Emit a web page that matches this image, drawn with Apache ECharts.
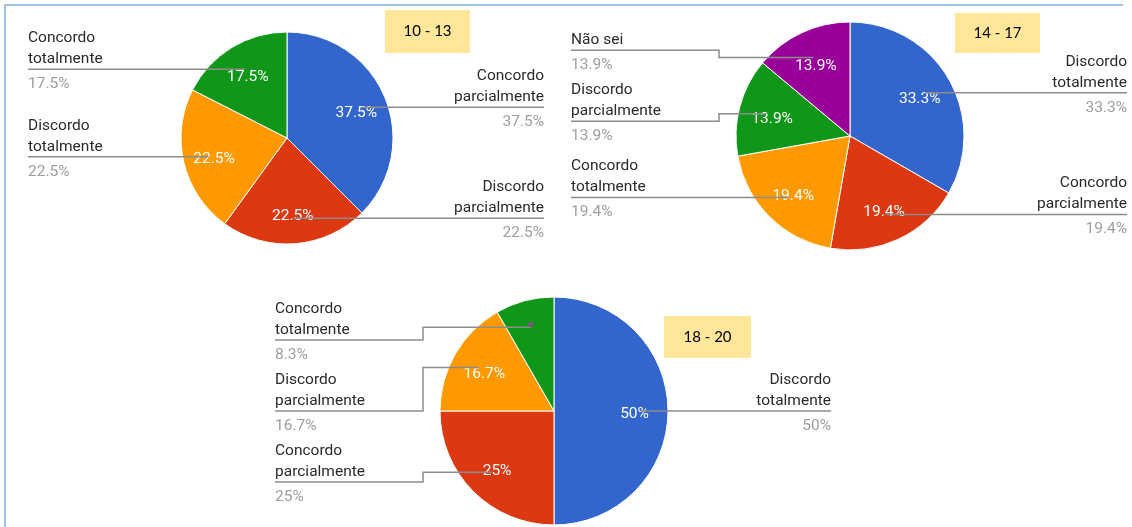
<!DOCTYPE html>
<html><head><meta charset="utf-8">
<script src="https://cdn.jsdelivr.net/npm/echarts@6/dist/echarts.min.js"></script>
<style>html,body{margin:0;padding:0;background:#fff}#c{width:1132px;height:527px}</style>
</head><body><div id="c"></div>
<script>
// ---- data ----
const names1 = ['Concordo parcialmente', 'Discordo parcialmente', 'Discordo totalmente', 'Concordo totalmente'];
const values1 = [37.5, 22.5, 22.5, 17.5];
const colors1 = ['#3366cc', '#dc3912', '#ff9900', '#109618'];

const names2 = ['Discordo totalmente', 'Concordo parcialmente', 'Concordo totalmente', 'Discordo parcialmente', 'Não sei'];
const values2 = [33.3, 19.4, 19.4, 13.9, 13.9];
const colors2 = ['#3366cc', '#dc3912', '#ff9900', '#109618', '#990099'];

const names3 = ['Discordo totalmente', 'Concordo parcialmente', 'Discordo parcialmente', 'Concordo totalmente'];
const values3 = [50, 25, 16.7, 8.3];
const colors3 = ['#3366cc', '#dc3912', '#ff9900', '#109618'];

const groupLabels = ['10 - 13', '14 - 17', '18 - 20'];

// ---- layout ----
const FONT = 'Roboto';
const layouts = [
  {left: 28, right: 544, labelTop: 0, labelBottom: 527, cx: 287, cy: 138, r: 106},
  {left: 571, right: 1127, labelTop: 0, labelBottom: 527, cx: 850, cy: 136, r: 114},
  {left: 275, right: 831, labelTop: 295.5, labelBottom: 527, cx: 554, cy: 411, r: 114}
];
const boxes = [
  {x: 385, y: 10, w: 85, h: 43},
  {x: 955, y: 13, w: 85, h: 40},
  {x: 664, y: 316, w: 87, h: 42}
];
const LINE_H = 21, BELOW = 26.5, STEP = 148;

function splitName(n) {
  if (n.length <= 10) return [n];
  const i = n.indexOf(' ');
  return [n.slice(0, i), n.slice(i + 1)];
}

const TRANSP = 'rgba(0,0,0,0)';
let chart;
const layoutCache = {};

// dot positions from the library's own sector layout
function getDots(seriesIndex, L, values) {
  try {
    const data = chart.getModel().getSeriesByIndex(seriesIndex).getData();
    return values.map((v, i) => {
      const l = data.getItemLayout(i);
      const a = (l.startAngle + l.endAngle) / 2;
      return [l.cx + l.r * Math.cos(a), l.cy + l.r * Math.sin(a)];
    });
  } catch (e) {
    const tot = values.reduce((a, b) => a + b, 0);
    let acc = 0;
    return values.map(v => {
      const a = -Math.PI / 2 + (acc + v / 2) / tot * Math.PI * 2;
      acc += v;
      return [L.cx + 0.76 * L.r * Math.cos(a), L.cy + 0.76 * L.r * Math.sin(a)];
    });
  }
}

function computeLayout(seriesIndex, L, names, values) {
  if (layoutCache[seriesIndex]) return layoutCache[seriesIndex];
  const dots = getDots(seriesIndex, L, values);
  const res = [];
  ['L', 'R'].forEach(side => {
    const items = [];
    dots.forEach((d, i) => {
      const isLeft = d[0] < L.cx;
      if ((side === 'L') === isLeft) {
        const n = splitName(names[i]).length;
        items.push({i: i, dot: d, n: n, top: LINE_H * n + 2.5, y: d[1], isLeft: isLeft});
      }
    });
    items.sort((a, b) => a.dot[1] - b.dot[1]);
    for (let it = 0; it < 300; it++) {
      for (let k = 1; k < items.length; k++) {
        const need = items[k - 1].y + BELOW + items[k].top;
        if (items[k].y < need) {
          const ov = need - items[k].y;
          items[k - 1].y -= ov / 2;
          items[k].y += ov / 2;
        }
      }
      items.forEach(o => {
        o.y = Math.max(o.y, L.labelTop + o.top);
        o.y = Math.min(o.y, L.labelBottom - BELOW);
      });
    }
    items.forEach(o => { res[o.i] = o; });
  });
  layoutCache[seriesIndex] = res;
  return res;
}

function build(names, values, colors, L, baseIndex) {
  const center = [L.cx, L.cy];
  const colored = names.map((n, i) => ({name: n, value: values[i], itemStyle: {color: colors[i]}}));
  const plain = names.map((n, i) => ({name: n, value: values[i]}));
  const common = {type: 'pie', left: 0, top: 0, width: 1132, height: 527, center: center,
    startAngle: 90, clockwise: true, silent: true, animation: false};
  const main = Object.assign({}, common, {
    radius: [0, L.r], data: colored,
    itemStyle: {borderColor: '#fff', borderWidth: 1},
    label: {show: false}, labelLine: {show: false}, z: 1
  });
  const txt = Object.assign({}, common, {
    radius: [0.36 * L.r, L.r], data: plain,
    itemStyle: {color: TRANSP, borderWidth: 0},
    label: {show: true, position: 'inside', color: '#fff', fontSize: 15.5, fontFamily: FONT,
      formatter: p => (p.value >= 10 ? '{s| }\n{v|' + p.value + '%}' : ''),
      rich: {
        s: {fontSize: 1, lineHeight: 7},
        v: {fontSize: 15.5, lineHeight: 19, color: '#fff', fontFamily: FONT}
      }},
    labelLine: {show: false}, z: 2
  });
  const labIndex = baseIndex + 2;
  const lab = Object.assign({}, common, {
    radius: [0, 0.76 * L.r], data: plain,
    itemStyle: {color: TRANSP, borderWidth: 0},
    label: {show: true, position: 'outside', alignTo: 'edge', edgeDistance: 0, overflow: 'none',
      fontFamily: FONT, fontSize: 15.5,
      formatter: p => splitName(p.name).map(s => '{n|' + s + '}').join('\n') + '\n{p|' + p.value + '%}',
      rich: {
        n: {fontSize: 15.5, lineHeight: 21, color: '#2a2a2a', fontFamily: FONT},
        p: {fontSize: 15.5, lineHeight: 29, color: '#9e9e9e', fontFamily: FONT}
      }},
    labelLine: {show: true, length: 0, length2: 10, smooth: false,
      lineStyle: {color: '#8c8c8c', width: 1.5}},
    labelLayout: function (params) {
      const pts = params.labelLinePoints;
      if (!pts) return {};
      const lay = computeLayout(labIndex, L, names, values)[params.dataIndex];
      const dotX = pts[0][0], dotY = pts[0][1];
      const lineY = lay.y;
      const edgeX = lay.isLeft ? L.left : L.right;
      let newPts;
      if (Math.abs(lineY - dotY) < 1) {
        newPts = [[dotX, dotY], [edgeX, dotY]];
      } else {
        const stepX = lay.isLeft ? edgeX + STEP : edgeX - STEP;
        newPts = [[dotX, dotY], [stepX, dotY], [stepX, lineY], [edgeX, lineY]];
      }
      return {
        x: edgeX, y: lineY - 10.5 * lay.n + 15,
        align: lay.isLeft ? 'left' : 'right', verticalAlign: 'middle',
        labelLinePoints: newPts
      };
    },
    z: 3
  });
  const dot = Object.assign({}, common, {
    radius: [0.52 * L.r, L.r], data: plain,
    itemStyle: {color: TRANSP, borderWidth: 0},
    label: {show: true, position: 'inside', formatter: '{d| }',
      rich: {d: {width: 6, height: 6, borderRadius: 3, backgroundColor: '#666', fontSize: 1, lineHeight: 6}}},
    labelLine: {show: false}, z: 4
  });
  return [main, txt, lab, dot];
}

const series = [].concat(
  build(names1, values1, colors1, layouts[0], 0),
  build(names2, values2, colors2, layouts[1], 4),
  build(names3, values3, colors3, layouts[2], 8)
);

const graphic = [
  {type: 'line', shape: {x1: 4, y1: 5, x2: 1123, y2: 5}, style: {stroke: '#9dc3e6', lineWidth: 2}, silent: true},
  {type: 'line', shape: {x1: 5, y1: 4, x2: 5, y2: 527}, style: {stroke: '#9dc3e6', lineWidth: 2}, silent: true}
];
boxes.forEach((b, i) => {
  graphic.push({type: 'rect', shape: {x: b.x, y: b.y, width: b.w, height: b.h}, style: {fill: '#ffe699'}, silent: true, z: 10});
  graphic.push({type: 'text', x: b.x + b.w / 2, y: b.y + b.h / 2, z: 11, silent: true,
    style: {text: groupLabels[i], align: 'center', verticalAlign: 'middle', fill: '#000',
      font: '15px Lato, "Open Sans", sans-serif'}});
});

chart = echarts.init(document.getElementById('c'), null, {renderer: 'canvas'});
chart.setOption({
  backgroundColor: '#fff',
  animation: false,
  series: series,
  graphic: graphic
});
</script>
</body></html>
